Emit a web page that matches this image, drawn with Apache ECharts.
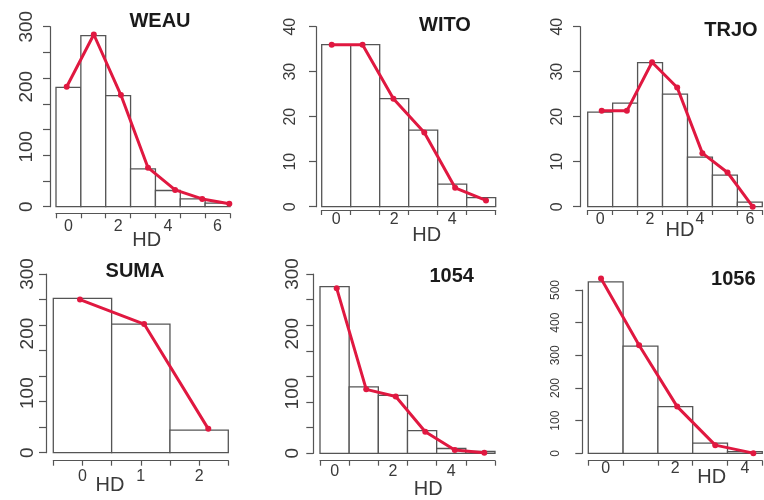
<!DOCTYPE html>
<html>
<head>
<meta charset="utf-8">
<script src="https://cdn.jsdelivr.net/npm/echarts@6/dist/echarts.min.js"></script>
<style>
  html, body { margin: 0; padding: 0; background: #ffffff; }
  #chart { width: 764px; height: 500px; }
</style>
</head>
<body>
<div id="chart"></div>
<script>
// Distribution of HD per population: observed counts (bars) and fitted counts (red line)
const popWEAU = 'WEAU';
const hdWEAU = [0, 1, 2, 3, 4, 5, 6];
const obsWEAU = [199, 285, 185, 63, 27, 13, 6];
const fitWEAU = [200, 287, 186, 65, 28, 13, 5];

const popWITO = 'WITO';
const hdWITO = [0, 1, 2, 3, 4, 5];
const obsWITO = [36, 36, 24, 17, 5, 2];
const fitWITO = [36, 36, 24, 16.5, 4.2, 1.4];

const popTRJO = 'TRJO';
const hdTRJO = [0, 1, 2, 3, 4, 5, 6];
const obsTRJO = [21, 23, 32, 25, 11, 7, 1];
const fitTRJO = [21.3, 21.3, 32.1, 26.5, 11.9, 7.6, 0];

const popSUMA = 'SUMA';
const hdSUMA = [0, 1, 2];
const obsSUMA = [259, 216, 38];
const fitSUMA = [257, 216, 40];

const pop1054 = '1054';
const hd1054 = [0, 1, 2, 3, 4, 5];
const obs1054 = [279, 111, 97, 38, 8, 3];
const fit1054 = [276, 107, 95, 36, 5.5, 1];

const pop1056 = '1056';
const hd1056 = [0, 1, 2, 3, 4];
const obs1056 = [525, 328, 143, 31, 5];
const fit1056 = [535, 331, 143, 25, 0.5];

// tick labels
const yLabels300 = [0, 100, 200, 300];
const yLabels40 = [0, 10, 20, 30, 40];
const yLabels500 = [0, 100, 200, 300, 400, 500];
const xLabelsWEAU = [0, 2, 4, 6];
const xLabelsWITO = [0, 2, 4];
const xLabelsTRJO = [0, 2, 4, 6];
const xLabelsSUMA = [0, 1, 2];
const xLabels1054 = [0, 2, 4];
const xLabels1056 = [0, 2, 4];
const xAxisTitle = 'HD';

// panel layout (pixels) and axis styling
const panels = [
  { name: popWEAU, hd: hdWEAU, obs: obsWEAU, fit: fitWEAU, yLabels: yLabels300, xLabels: xLabelsWEAU,
    grid: { left: 56, top: 26.7, width: 174, height: 180 }, yMax: 300, yTickSteps: 7, yFont: 19, yMargin: 14,
    yOff: 6, xOff: 6.6, xMargin: 5, tickStep: 1, lineRange: [-0.395, 6.025],
    titlePos: [160, 21.7], hdPos: [146.7, 240] },
  { name: popWITO, hd: hdWITO, obs: obsWITO, fit: fitWITO, yLabels: yLabels40, xLabels: xLabelsWITO,
    grid: { left: 321.7, top: 26.7, width: 174, height: 180 }, yMax: 40, yTickSteps: 4, yFont: 16, yMargin: 17,
    yOff: 5.7, xOff: 3.3, xMargin: 2, tickStep: 1, lineRange: [-0.324, 5.314],
    titlePos: [445, 25], hdPos: [426.7, 235] },
  { name: popTRJO, hd: hdTRJO, obs: obsTRJO, fit: fitTRJO, yLabels: yLabels40, xLabels: xLabelsTRJO,
    grid: { left: 587.7, top: 26.7, width: 174.6, height: 180 }, yMax: 40, yTickSteps: 4, yFont: 16, yMargin: 14,
    yOff: 7.7, xOff: 3.3, xMargin: 2, tickStep: 1, lineRange: [-0.556, 6.381],
    titlePos: [731, 30], hdPos: [680, 230] },
  { name: popSUMA, hd: hdSUMA, obs: obsSUMA, fit: fitSUMA, yLabels: yLabels300, xLabels: xLabelsSUMA,
    grid: { left: 53.3, top: 274, width: 175, height: 178.7 }, yMax: 300, yTickSteps: 7, yFont: 19, yMargin: 9,
    yOff: 7.3, xOff: 8, xMargin: 8, tickStep: 0.5, lineRange: [-0.416, 2.312],
    titlePos: [135, 271.7], hdPos: [110, 485] },
  { name: pop1054, hd: hd1054, obs: obs1054, fit: fit1054, yLabels: yLabels300, xLabels: xLabels1054,
    grid: { left: 320, top: 274, width: 175, height: 179.3 }, yMax: 300, yTickSteps: 7, yFont: 19, yMargin: 11,
    yOff: 6.7, xOff: 7.4, xMargin: 3, tickStep: 1, lineRange: [-0.566, 5.362],
    titlePos: [451.7, 276.7], hdPos: [428.3, 489.3] },
  { name: pop1056, hd: hd1056, obs: obs1056, fit: fit1056, yLabels: yLabels500, xLabels: xLabels1056,
    grid: { left: 588.3, top: 290, width: 174, height: 163.3 }, yMax: 500, yTickSteps: 5, yFont: 12, yMargin: 21,
    yOff: 6, xOff: 7.4, xMargin: 0, tickStep: 1, lineRange: [-0.334, 4.235],
    titlePos: [733.3, 279], hdPos: [711.7, 477.7] }
];

const axisGray = '#555555';
const textGray = '#3a3a3a';
const lineRed = '#e01840';
const sans = '"Liberation Sans", Arial, sans-serif';

const grids = [], xAxes = [], yAxes = [], series = [], graphics = [];

panels.forEach((p, i) => {
  const n = p.hd.length;
  grids.push(Object.assign({ containLabel: false }, p.grid));

  // tick positions: bin edges (or half steps) on x, equal steps on y
  const xTicks = [];
  for (let v = -0.5; v <= n - 0.5 + 1e-9; v += p.tickStep) xTicks.push(+v.toFixed(3));
  const yTicks = [];
  for (let k = 0; k <= p.yTickSteps; k++) yTicks.push(p.yMax * k / p.yTickSteps);

  // visible x axis for the histogram bins
  xAxes.push({
    type: 'value', gridIndex: i, min: -0.5, max: n - 0.5, offset: p.xOff, position: 'bottom',
    axisLine: { show: true, onZero: false, lineStyle: { color: axisGray, width: 1.2 } },
    axisTick: { show: true, length: 5, customValues: xTicks, lineStyle: { color: axisGray, width: 1.2 } },
    axisLabel: { show: true, customValues: p.xLabels, margin: p.xMargin, color: textGray,
                 fontFamily: sans, fontSize: 16 },
    splitLine: { show: false }
  });
  // hidden x axis carrying the fitted line
  xAxes.push({
    type: 'value', gridIndex: i, min: p.lineRange[0], max: p.lineRange[1], show: false,
    axisLine: { onZero: false }, splitLine: { show: false }
  });

  yAxes.push({
    type: 'value', gridIndex: i, min: 0, max: p.yMax, offset: p.yOff, position: 'left',
    axisLine: { show: true, onZero: false, lineStyle: { color: axisGray, width: 1.2 } },
    axisTick: { show: true, length: 7, customValues: yTicks, lineStyle: { color: axisGray, width: 1.2 } },
    axisLabel: { show: true, customValues: p.yLabels, rotate: 90, margin: p.yMargin, color: textGray,
                 fontFamily: sans, fontSize: p.yFont },
    splitLine: { show: false }
  });

  // histogram bars, one unit wide per HD class
  series.push({
    type: 'custom', xAxisIndex: 2 * i, yAxisIndex: i, clip: false, z: 2,
    data: p.hd.map((h, k) => [h, p.obs[k]]),
    renderItem: (params, api) => {
      const x = api.value(0), y = api.value(1);
      const tl = api.coord([x - 0.5, y]);
      const br = api.coord([x + 0.5, 0]);
      return {
        type: 'rect',
        shape: { x: tl[0], y: tl[1], width: br[0] - tl[0], height: br[1] - tl[1] },
        style: { fill: '#ffffff', stroke: axisGray, lineWidth: 1.3 }
      };
    }
  });

  // fitted counts
  series.push({
    type: 'line', xAxisIndex: 2 * i + 1, yAxisIndex: i, clip: false, z: 5,
    data: p.hd.map((h, k) => [h, p.fit[k]]),
    symbol: 'circle', symbolSize: 6, showSymbol: true,
    lineStyle: { color: lineRed, width: 3 },
    itemStyle: { color: lineRed },
    animation: false
  });

  graphics.push({
    type: 'text', x: p.titlePos[0], y: p.titlePos[1],
    style: { text: p.name, font: 'bold 20px ' + sans, fill: '#1a1a1a',
             align: 'center', verticalAlign: 'middle', textAlign: 'center', textVerticalAlign: 'middle' }
  });
  graphics.push({
    type: 'text', x: p.hdPos[0], y: p.hdPos[1],
    style: { text: xAxisTitle, font: '20px ' + sans, fill: textGray,
             align: 'center', verticalAlign: 'middle', textAlign: 'center', textVerticalAlign: 'middle' }
  });
});

const chart = echarts.init(document.getElementById('chart'), null, { renderer: 'canvas' });
chart.setOption({
  backgroundColor: '#ffffff',
  animation: false,
  grid: grids,
  xAxis: xAxes,
  yAxis: yAxes,
  series: series,
  graphic: graphics
});
</script>
</body>
</html>
